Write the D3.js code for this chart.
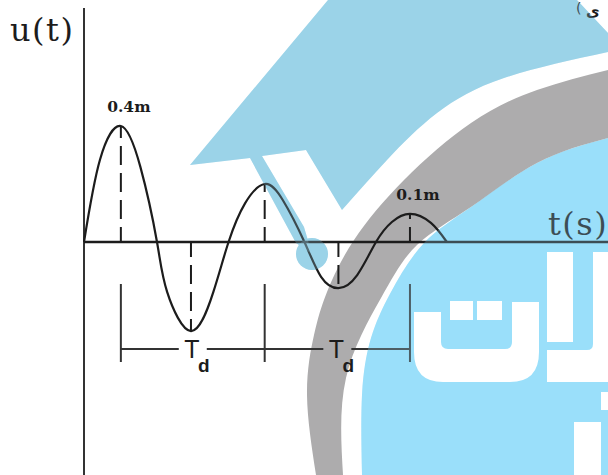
<!DOCTYPE html>
<html><head><meta charset="utf-8">
<script src="https://cdn.jsdelivr.net/npm/d3@7/dist/d3.min.js"></script>
<style>html,body{margin:0;padding:0;background:#fff}svg{display:block}</style>
</head><body><svg id="c" width="608" height="475"></svg>
<script>
const timeValues = [0,0.22,0.51,0.78,1.01,1.15,1.48,1.79,2.0,2.23,2.5,2.75,3.05,3.28,3.52,3.78,4.04,4.26,4.51,4.8,5.02];
const dispValues = [0,0.283,0.40,0.259,0,-0.172,-0.307,-0.172,0,0.134,0.2,0.145,0,-0.12,-0.159,-0.114,0,0.069,0.097,0.066,0];
const peakTimes = [0.51,1.48,2.5,3.52,4.51];
const peakValues = [0.40,-0.307,0.2,-0.159,0.097];
const periodMarks = [0.51,2.5,4.51];
const peakLabels = [{t:0.51,u:0.4,text:"0.4m"},{t:4.51,u:0.097,text:"0.1m"}];
const periodLabel = "T", periodSub = "d";
const yLabel = "u(t)", xLabel = "t(s)";

const svg = d3.select("#c");
const x = d3.scaleLinear().domain([0,7.25]).range([84,608]);
const y = d3.scaleLinear().domain([0,0.4]).range([242,126]);

// watermark
const nat = d3.line().curve(d3.curveNatural);
const BLUE1="#9bd3e9", BLUE2="#9adffa", GRAY="#adacad";
const capEdge = nat([[608,52],[504,78],[437,113],[387,160],[342,210]]).replace(/^M[^C]*/,"");
const capPath="M190,165L328,0H577L608,33V52"+capEdge+"L306,150L262,156L304,227L312,254L296,243L250,158Z";
const ringOut=nat([[608,70],[537,90],[471,123],[404,180],[354,240],[327,292],[314,335],[307,395],[316,475]]);
const ringIn=nat([[343,475],[346,378],[381,298],[417,245],[471,207],[537,163],[608,138]]).replace(/^M/,"L");
const ringPath=ringOut+ringIn+"Z";
const circPath=nat([[608,138],[537,163],[471,207],[424,243],[391,292],[371,338],[362,395],[362,475]])+"L608,475Z";
const letterT="M414,312H441V342Q441,349 448,349H505Q512,349 512,342V302H539V352Q539,382 510,382H443Q414,382 414,352Z";
const letterRest="M450,301H473V320H450ZM477,301H502V320H477ZM547,252H573V342H547ZM593,252H608V382H547V350H587Q593,350 593,344ZM601,392H608V410H601ZM574,422H601V475H574Z";
function blueShapes(g,op){
  g.append("path").attr("d",capPath).attr("fill",BLUE1).attr("opacity",op);
  g.append("circle").attr("cx",312).attr("cy",254).attr("r",16).attr("fill",BLUE1).attr("opacity",op);
  g.append("path").attr("d",circPath).attr("fill",BLUE2).attr("opacity",op);
}
const wm=svg.append("g");
blueShapes(wm,1);
wm.append("path").attr("d",ringPath).attr("fill",GRAY);

// chart
const ink="#1c1c1c";
const g=svg.append("g");
g.append("line").attr("x1",x(0)).attr("x2",x(0)).attr("y1",8).attr("y2",475).attr("stroke","#333").attr("stroke-width",2);
g.append("line").attr("x1",x(0)).attr("x2",608).attr("y1",y(0)).attr("y2",y(0)).attr("stroke",ink).attr("stroke-width",2.6);
g.selectAll(".drop").data(peakTimes).join("line").attr("x1",d=>x(d)).attr("x2",d=>x(d))
  .attr("y1",y(0)).attr("y2",(d,i)=>y(peakValues[i])).attr("stroke",ink).attr("stroke-width",2).attr("stroke-dasharray","19 8").attr("stroke-dashoffset",4);
g.append("path").attr("d",d3.line().x(d=>x(d[0])).y(d=>y(d[1])).curve(d3.curveNatural)(timeValues.map((t,i)=>[t,dispValues[i]])))
  .attr("fill","none").attr("stroke",ink).attr("stroke-width",2.2);
g.selectAll(".tick").data(periodMarks).join("line").attr("x1",d=>x(d)).attr("x2",d=>x(d)).attr("y1",284).attr("y2",362).attr("stroke","#333").attr("stroke-width",2);
periodMarks.slice(1).forEach((m,i)=>{
  const a=x(periodMarks[i]),b=x(m),mid=(a+b)/2;
  g.append("line").attr("x1",a).attr("x2",mid-14).attr("y1",349).attr("y2",349).attr("stroke","#333").attr("stroke-width",2);
  g.append("line").attr("x1",mid+14).attr("x2",b).attr("y1",349).attr("y2",349).attr("stroke","#333").attr("stroke-width",2);
  g.append("text").attr("x",mid-1).attr("y",358).attr("text-anchor","middle").attr("font-family","Liberation Sans").attr("font-size",25).attr("fill",ink).text(periodLabel);
  g.append("text").attr("x",mid+11).attr("y",372).attr("text-anchor","middle").attr("font-family","Liberation Sans").attr("font-weight","bold").attr("font-size",19).attr("fill",ink).text(periodSub);
});
g.selectAll(".pl").data(peakLabels).join("text").attr("x",d=>x(d.t)+8).attr("y",d=>y(d.u)-14)
  .attr("text-anchor","middle").attr("font-family","DejaVu Serif").attr("font-weight","bold").attr("font-size",15.5).attr("fill",ink).text(d=>d.text);
g.append("text").attr("x",10).attr("y",41).attr("font-family","DejaVu Serif").attr("font-size",32).attr("letter-spacing",1.5).attr("fill",ink).text(yLabel);
g.append("text").attr("x",548).attr("y",235).attr("font-family","DejaVu Serif").attr("font-size",32).attr("letter-spacing",1.5).attr("fill",ink).text(xLabel);
g.append("text").attr("x",576).attr("y",13).attr("font-family","DejaVu Sans").attr("font-size",14).attr("fill",ink).text("(");
g.append("text").attr("x",586).attr("y",16).attr("font-family","DejaVu Sans").attr("font-weight","bold").attr("font-size",15).attr("fill",ink).text("ی");

// tint of the watermark over the ink, as in the reference
blueShapes(svg.append("g"),0.25);
const letters=svg.append("g");
letters.append("path").attr("fill","#fff").attr("d",letterT);
letters.append("path").attr("fill","#fff").attr("d",letterRest);
</script></body></html>
